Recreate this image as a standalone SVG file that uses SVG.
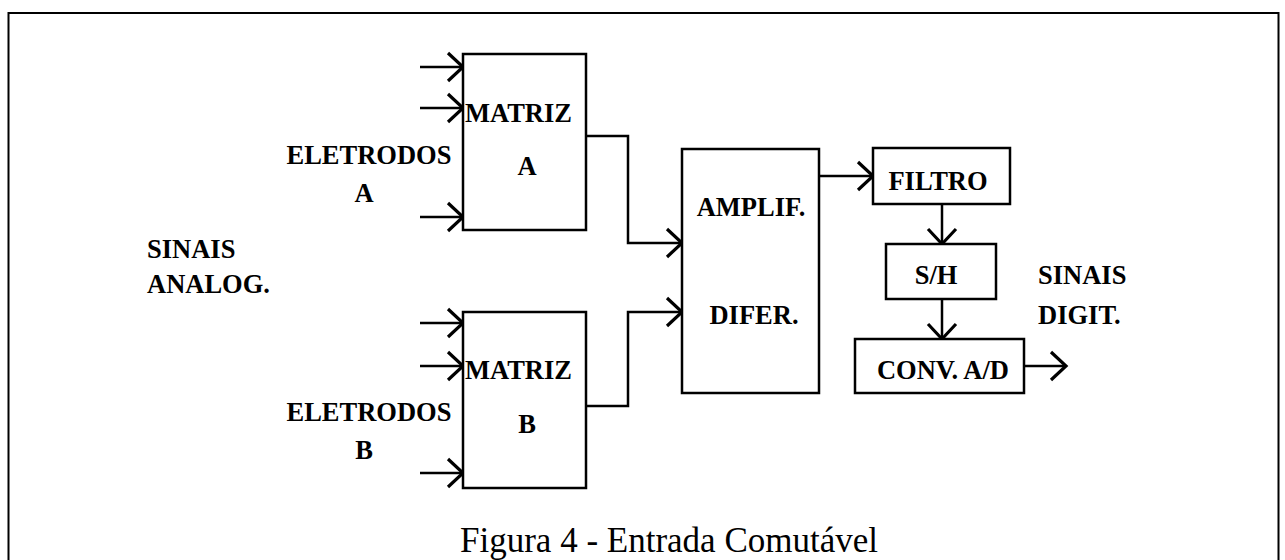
<svg xmlns="http://www.w3.org/2000/svg" width="1285" height="560" viewBox="0 0 1285 560">
<style>
.box{fill:#fff;stroke:#000;stroke-width:2.5}
.ln{fill:none;stroke:#000;stroke-width:2.5}
.lb{font-family:"Liberation Serif","Times New Roman",serif;font-weight:bold;font-size:26.5px;fill:#000}
.cap{font-family:"Liberation Serif","Times New Roman",serif;font-size:35px;fill:#000}
</style>
<defs>
<marker id="ah" markerUnits="userSpaceOnUse" markerWidth="24" markerHeight="36" viewBox="-20 -18 24 36" refX="0" refY="0" orient="auto">
<path d="M-15,-14 L0,0 L-15,14" fill="none" stroke="#000" stroke-width="3.2"/>
</marker>
</defs>
<rect x="0" y="0" width="1285" height="560" fill="#fff"/>
<rect id="frame" x="8.5" y="13" width="1270" height="570" fill="none" stroke="#000" stroke-width="2"/>

<g id="connectors">
<line class="ln" x1="420" y1="67" x2="463" y2="67" marker-end="url(#ah)"/>
<line class="ln" x1="420" y1="108" x2="463" y2="108" marker-end="url(#ah)"/>
<line class="ln" x1="420" y1="217" x2="463" y2="217" marker-end="url(#ah)"/>
<line class="ln" x1="420" y1="323" x2="463" y2="323" marker-end="url(#ah)"/>
<line class="ln" x1="420" y1="366" x2="463" y2="366" marker-end="url(#ah)"/>
<line class="ln" x1="420" y1="473" x2="463" y2="473" marker-end="url(#ah)"/>
<polyline class="ln" points="586,136 628,136 628,243 682,243" marker-end="url(#ah)"/>
<polyline class="ln" points="586,406 628,406 628,312 682,312" marker-end="url(#ah)"/>
<line class="ln" x1="819" y1="176" x2="873" y2="176" marker-end="url(#ah)"/>
<line class="ln" x1="942" y1="204" x2="942" y2="244" marker-end="url(#ah)"/>
<line class="ln" x1="942" y1="299" x2="942" y2="339" marker-end="url(#ah)"/>
<line class="ln" x1="1024" y1="366" x2="1066" y2="366" marker-end="url(#ah)"/>
</g>

<g id="matriz-a">
<rect class="box" x="463" y="54" width="123" height="176"/>
<text class="lb" x="465" y="122">MATRIZ</text>
<text class="lb" x="527" y="175" text-anchor="middle">A</text>
</g>
<g id="matriz-b">
<rect class="box" x="463" y="312" width="123" height="176"/>
<text class="lb" x="465" y="379">MATRIZ</text>
<text class="lb" x="527" y="433" text-anchor="middle">B</text>
</g>
<g id="eletrodos-a">
<text class="lb" x="369" y="164" text-anchor="middle">ELETRODOS</text>
<text class="lb" x="364" y="202" text-anchor="middle">A</text>
</g>
<g id="eletrodos-b">
<text class="lb" x="369" y="421" text-anchor="middle">ELETRODOS</text>
<text class="lb" x="364" y="459" text-anchor="middle">B</text>
</g>
<g id="sinais-analog">
<text class="lb" x="147" y="258">SINAIS</text>
<text class="lb" x="147" y="293">ANALOG.</text>
</g>
<g id="amplif">
<rect class="box" x="682" y="149" width="137" height="244"/>
<text class="lb" x="751" y="216" text-anchor="middle">AMPLIF.</text>
<text class="lb" x="754" y="324" text-anchor="middle">DIFER.</text>
</g>
<g id="filtro">
<rect class="box" x="873" y="148" width="137" height="56"/>
<text class="lb" x="938" y="190" text-anchor="middle">FILTRO</text>
</g>
<g id="sh">
<rect class="box" x="886" y="244" width="110" height="55"/>
<text class="lb" x="936" y="284" text-anchor="middle">S/H</text>
</g>
<g id="conv">
<rect class="box" x="855" y="339" width="169" height="54"/>
<text class="lb" x="943" y="379" text-anchor="middle">CONV. A/D</text>
</g>
<g id="sinais-digit">
<text class="lb" x="1038" y="284">SINAIS</text>
<text class="lb" x="1038" y="324">DIGIT.</text>
</g>
<g id="caption">
<text class="cap" x="669" y="552" text-anchor="middle">Figura 4 - Entrada Comutável</text>
</g>
</svg>
